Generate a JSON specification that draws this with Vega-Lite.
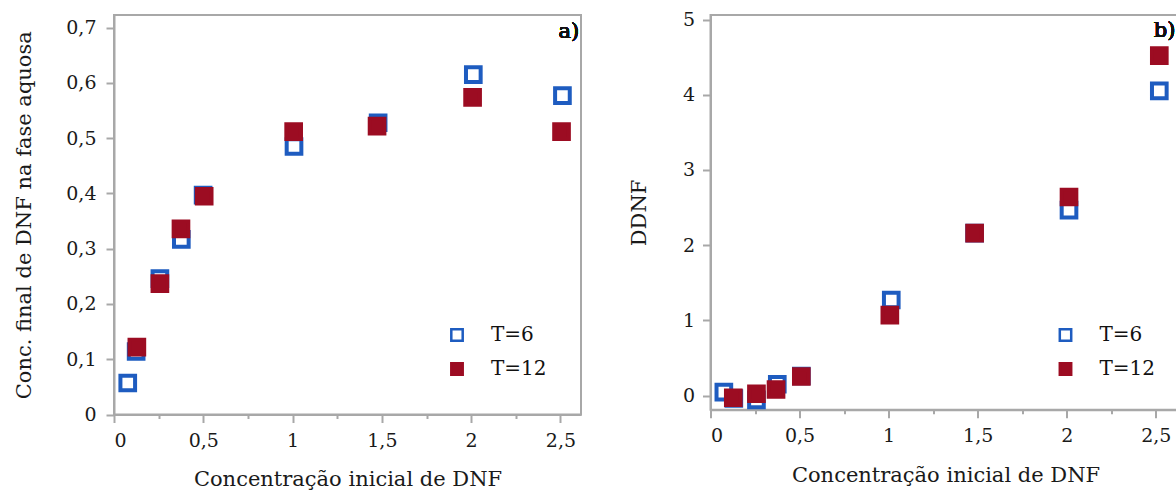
{
  "$schema": "https://vega.github.io/schema/vega-lite/v6.json",
  "background": "white",
  "padding": {"left": 12, "top": 9, "right": 0, "bottom": 0},
  "bounds": "flush",
  "spacing": 129.5,
  "config": {
    "view": {"stroke": "#a8a8a8", "strokeWidth": 2},
    "font": "DejaVu Serif",
    "axis": {
      "domainColor": "#a8a8a8", "domainWidth": 2,
      "tickColor": "#a8a8a8", "tickWidth": 2,
      "grid": false,
      "labelFont": "DejaVu Serif", "labelFontSize": 19, "labelColor": "#1a1a1a",
      "titleFont": "DejaVu Serif", "titleFontWeight": "normal", "titleColor": "#1a1a1a", "titleFontSize": 21
    },
    "legend": {
      "orient": "none", "title": null, "padding": 0,
      "symbolType": "square", "symbolSize": 130, "symbolStrokeWidth": 2.5,
      "labelFont": "DejaVu Serif", "labelFontSize": 20, "labelColor": "#111111",
      "labelOffset": 24, "rowPadding": 12
    }
  },
  "hconcat": [
    {
      "width": 467,
      "height": 399.5,
      "data": {"values": [
        {"series": "T=6", "x": 0.077, "y": 0.057},
        {"series": "T=6", "x": 0.124, "y": 0.114},
        {"series": "T=6", "x": 0.257, "y": 0.246},
        {"series": "T=6", "x": 0.377, "y": 0.317},
        {"series": "T=6", "x": 0.499, "y": 0.397},
        {"series": "T=6", "x": 1.008, "y": 0.485},
        {"series": "T=6", "x": 1.479, "y": 0.528},
        {"series": "T=6", "x": 2.012, "y": 0.615},
        {"series": "T=6", "x": 2.511, "y": 0.577},
        {"series": "T=12", "x": 0.128, "y": 0.122},
        {"series": "T=12", "x": 0.257, "y": 0.237},
        {"series": "T=12", "x": 0.375, "y": 0.336},
        {"series": "T=12", "x": 0.505, "y": 0.395},
        {"series": "T=12", "x": 1.006, "y": 0.512},
        {"series": "T=12", "x": 1.473, "y": 0.522},
        {"series": "T=12", "x": 2.008, "y": 0.574},
        {"series": "T=12", "x": 2.506, "y": 0.512}
      ]},
      "layer": [
        {
          "mark": {"type": "point", "shape": "square", "size": 215, "strokeWidth": 4, "opacity": 1, "filled": true},
          "encoding": {
            "x": {
              "field": "x", "type": "quantitative",
              "scale": {"domain": [0, 2.615], "nice": false, "zero": false},
              "axis": {
                "title": "Concentração inicial de DNF",
                "values": [0, 0.25, 0.5, 0.75, 1, 1.25, 1.5, 1.75, 2, 2.25, 2.5],
                "tickSize": {"condition": {"test": "round(datum.value*4) % 2 == 1", "value": 4}, "value": 8},
                "labelExpr": "round(datum.value*4) % 2 == 1 ? '' : replace(format(datum.value, '~g'), '.', ',')",
                "labelPadding": 9, "titlePadding": 18
              }
            },
            "y": {
              "field": "y", "type": "quantitative",
              "scale": {"domain": [0, 0.723], "nice": false, "zero": false},
              "axis": {
                "title": "Conc. final de DNF na fase aquosa",
                "values": [0, 0.05, 0.1, 0.15, 0.2, 0.25, 0.3, 0.35, 0.4, 0.45, 0.5, 0.55, 0.6, 0.65, 0.7],
                "tickSize": {"condition": {"test": "round(datum.value*20) % 2 == 1", "value": 4}, "value": 8},
                "labelExpr": "round(datum.value*20) % 2 == 1 ? '' : replace(format(datum.value, '~g'), '.', ',')",
                "labelPadding": 10, "titlePadding": 31
              }
            },
            "fill": {
              "field": "series", "type": "nominal",
              "scale": {"domain": ["T=6", "T=12"], "range": ["transparent", "#9c0c22"]},
              "legend": {"legendX": 333, "legendY": 310}
            },
            "stroke": {
              "field": "series", "type": "nominal",
              "scale": {"domain": ["T=6", "T=12"], "range": ["#1e5cc0", "#9c0c22"]},
              "legend": {"legendX": 333, "legendY": 310}
            }
          }
        },
        {
          "mark": {"type": "text", "text": "a)", "align": "right", "baseline": "alphabetic", "fontSize": 21, "fontWeight": 400, "font": "DejaVu Serif", "fill": "#111111"},
          "encoding": {
            "x": {"datum": 2.605, "type": "quantitative"},
            "y": {"datum": 0.682, "type": "quantitative"}
          }
        }
      ]
    },
    {
      "width": 470,
      "height": 394.8,
      "data": {"values": [
        {"series": "T=6", "x": 0.075, "y": 0.044},
        {"series": "T=6", "x": 0.131, "y": -0.04},
        {"series": "T=6", "x": 0.258, "y": -0.057},
        {"series": "T=6", "x": 0.375, "y": 0.15},
        {"series": "T=6", "x": 0.51, "y": 0.26},
        {"series": "T=6", "x": 1.015, "y": 1.27},
        {"series": "T=6", "x": 1.483, "y": 2.16},
        {"series": "T=6", "x": 2.013, "y": 2.465},
        {"series": "T=6", "x": 2.52, "y": 4.05},
        {"series": "T=12", "x": 0.128, "y": -0.03},
        {"series": "T=12", "x": 0.258, "y": 0.023},
        {"series": "T=12", "x": 0.368, "y": 0.08},
        {"series": "T=12", "x": 0.51, "y": 0.253},
        {"series": "T=12", "x": 1.007, "y": 1.07},
        {"series": "T=12", "x": 1.483, "y": 2.16},
        {"series": "T=12", "x": 2.013, "y": 2.64},
        {"series": "T=12", "x": 2.52, "y": 4.52}
      ]},
      "layer": [
        {
          "mark": {"type": "point", "shape": "square", "size": 215, "strokeWidth": 4, "opacity": 1, "filled": true},
          "encoding": {
            "x": {
              "field": "x", "type": "quantitative",
              "scale": {"domain": [0, 2.639], "nice": false, "zero": false},
              "axis": {
                "title": "Concentração inicial de DNF",
                "values": [0, 0.25, 0.5, 0.75, 1, 1.25, 1.5, 1.75, 2, 2.25, 2.5],
                "tickSize": {"condition": {"test": "round(datum.value*4) % 2 == 1", "value": 4}, "value": 8},
                "labelExpr": "round(datum.value*4) % 2 == 1 ? '' : replace(format(datum.value, '~g'), '.', ',')",
                "labelPadding": 9, "titlePadding": 19
              }
            },
            "y": {
              "field": "y", "type": "quantitative",
              "scale": {"domain": [-0.19, 5.06], "nice": false, "zero": false},
              "axis": {
                "title": "DDNF",
                "values": [0, 0.5, 1, 1.5, 2, 2.5, 3, 3.5, 4, 4.5, 5],
                "tickSize": {"condition": {"test": "round(datum.value*2) % 2 == 1", "value": 4}, "value": 8},
                "labelExpr": "round(datum.value*2) % 2 == 1 ? '' : format(datum.value, '~g')",
                "labelPadding": 8, "titlePadding": 33
              }
            },
            "fill": {
              "field": "series", "type": "nominal",
              "scale": {"domain": ["T=6", "T=12"], "range": ["transparent", "#9c0c22"]},
              "legend": {"legendX": 345, "legendY": 310}
            },
            "stroke": {
              "field": "series", "type": "nominal",
              "scale": {"domain": ["T=6", "T=12"], "range": ["#1e5cc0", "#9c0c22"]},
              "legend": {"legendX": 345, "legendY": 310}
            }
          }
        },
        {
          "mark": {"type": "text", "text": "b)", "align": "right", "baseline": "alphabetic", "fontSize": 21, "fontWeight": 400, "font": "DejaVu Serif", "fill": "#111111"},
          "encoding": {
            "x": {"datum": 2.611, "type": "quantitative"},
            "y": {"datum": 4.765, "type": "quantitative"}
          }
        }
      ]
    }
  ],
  "resolve": {"scale": {"x": "independent", "y": "independent", "fill": "independent", "stroke": "independent"}, "legend": {"fill": "independent", "stroke": "independent"}}
}
